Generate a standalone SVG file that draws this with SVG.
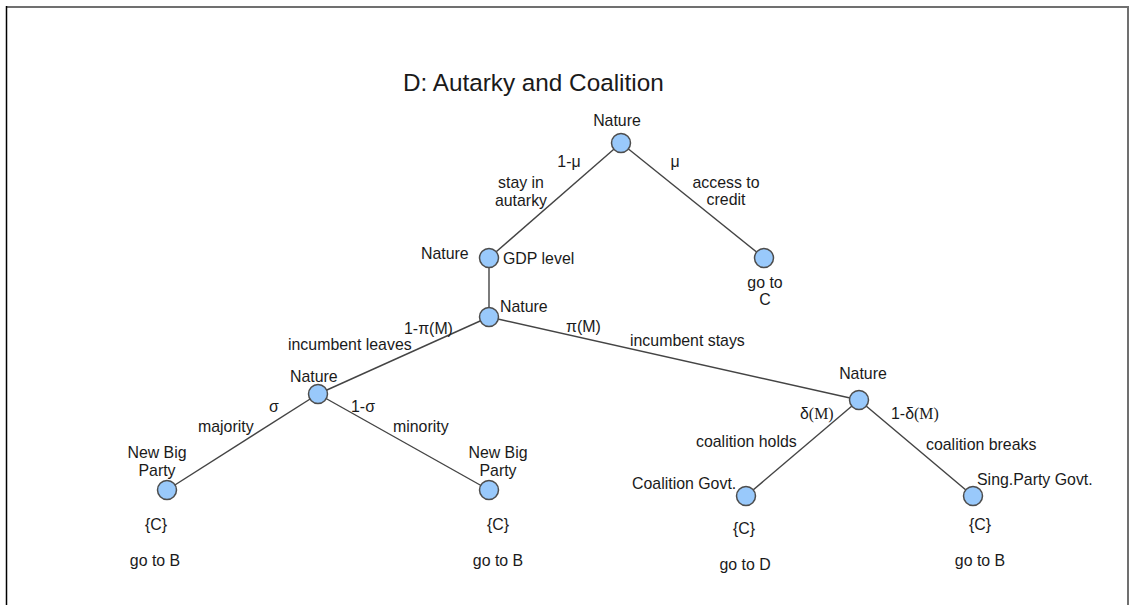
<svg xmlns="http://www.w3.org/2000/svg" width="1130" height="605" viewBox="0 0 1130 605">
<style>
text{font-family:"Liberation Sans",Arial,sans-serif;font-size:15.9px;fill:#1a1a1a}
.m{text-anchor:middle}
.title{font-size:24.3px}
.serif{font-family:"Liberation Serif","Times New Roman",serif}
circle{fill:#99c9fb;stroke:#4d4d4d;stroke-width:1.5}
#connectors line{stroke:#444;stroke-width:1.4}
</style>
<rect x="0" y="0" width="1130" height="605" fill="#fff"/>
<g id="frame">
<line x1="6" y1="7" x2="1128" y2="7" stroke="#707070" stroke-width="2"/>
<line x1="6.5" y1="6" x2="6.5" y2="605" stroke="#000" stroke-width="1.5"/>
<line x1="1128" y1="6" x2="1128" y2="605" stroke="#707070" stroke-width="2"/>
</g>
<text class="title" x="403" y="91">D: Autarky and Coalition</text>
<g id="connectors">
<line x1="621" y1="143" x2="489" y2="258"/>
<line x1="621" y1="143" x2="764" y2="258"/>
<line x1="489" y1="258" x2="489" y2="317"/>
<line x1="489" y1="317" x2="318" y2="394"/>
<line x1="489" y1="317" x2="859" y2="400"/>
<line x1="318" y1="394" x2="167" y2="490"/>
<line x1="318" y1="394" x2="489" y2="490"/>
<line x1="859" y1="400" x2="746" y2="496"/>
<line x1="859" y1="400" x2="973" y2="496"/>
</g>
<g id="edge-labels">
<text class="m" x="569" y="167">1-μ</text>
<text class="m" x="675" y="167">μ</text>
<text class="m" x="521" y="188">stay in</text>
<text class="m" x="521" y="206">autarky</text>
<text class="m" x="726" y="188">access to</text>
<text class="m" x="726" y="205">credit</text>
<text x="404" y="334">1-π(M)</text>
<text x="288" y="350">incumbent leaves</text>
<text x="566" y="332">π(M)</text>
<text x="630" y="346">incumbent stays</text>
<text x="269" y="412">σ</text>
<text x="351" y="412">1-σ</text>
<text x="198" y="432">majority</text>
<text x="393" y="432">minority</text>
<text x="800" y="419">δ<tspan class="serif">(M)</tspan></text>
<text x="891" y="419">1-δ<tspan class="serif">(M)</tspan></text>
<text x="696" y="447">coalition holds</text>
<text x="926" y="450">coalition breaks</text>
</g>
<g id="n-root"><circle cx="621" cy="143" r="9.5"/><text class="m" x="617" y="126">Nature</text></g>
<g id="n-gdp"><circle cx="489" cy="258" r="9.5"/><text x="421" y="259">Nature</text><text x="503" y="264">GDP level</text></g>
<g id="n-c"><circle cx="764" cy="258" r="9.5"/><text class="m" x="765" y="288">go to</text><text class="m" x="765" y="305">C</text></g>
<g id="n-inc"><circle cx="489" cy="317" r="9.5"/><text x="500" y="312">Nature</text></g>
<g id="n-leave"><circle cx="318" cy="394" r="9.5"/><text x="290" y="382">Nature</text></g>
<g id="n-stay"><circle cx="859" cy="400" r="9.5"/><text class="m" x="863" y="379">Nature</text></g>
<g id="n-nbp1"><circle cx="167" cy="490" r="9.5"/><text class="m" x="157" y="458">New Big</text><text class="m" x="157" y="476">Party</text><text class="m" x="156" y="530">{C}</text><text class="m" x="155" y="566">go to B</text></g>
<g id="n-nbp2"><circle cx="489" cy="490" r="9.5"/><text class="m" x="498" y="458">New Big</text><text class="m" x="498" y="476">Party</text><text class="m" x="498" y="530">{C}</text><text class="m" x="498" y="566">go to B</text></g>
<g id="n-coal"><circle cx="746" cy="496" r="9.5"/><text x="632" y="489">Coalition Govt.</text><text class="m" x="744" y="534">{C}</text><text class="m" x="745" y="570">go to D</text></g>
<g id="n-sing"><circle cx="973" cy="496" r="9.5"/><text x="977" y="485">Sing.Party Govt.</text><text class="m" x="980" y="530">{C}</text><text class="m" x="980" y="566">go to B</text></g>
</svg>
